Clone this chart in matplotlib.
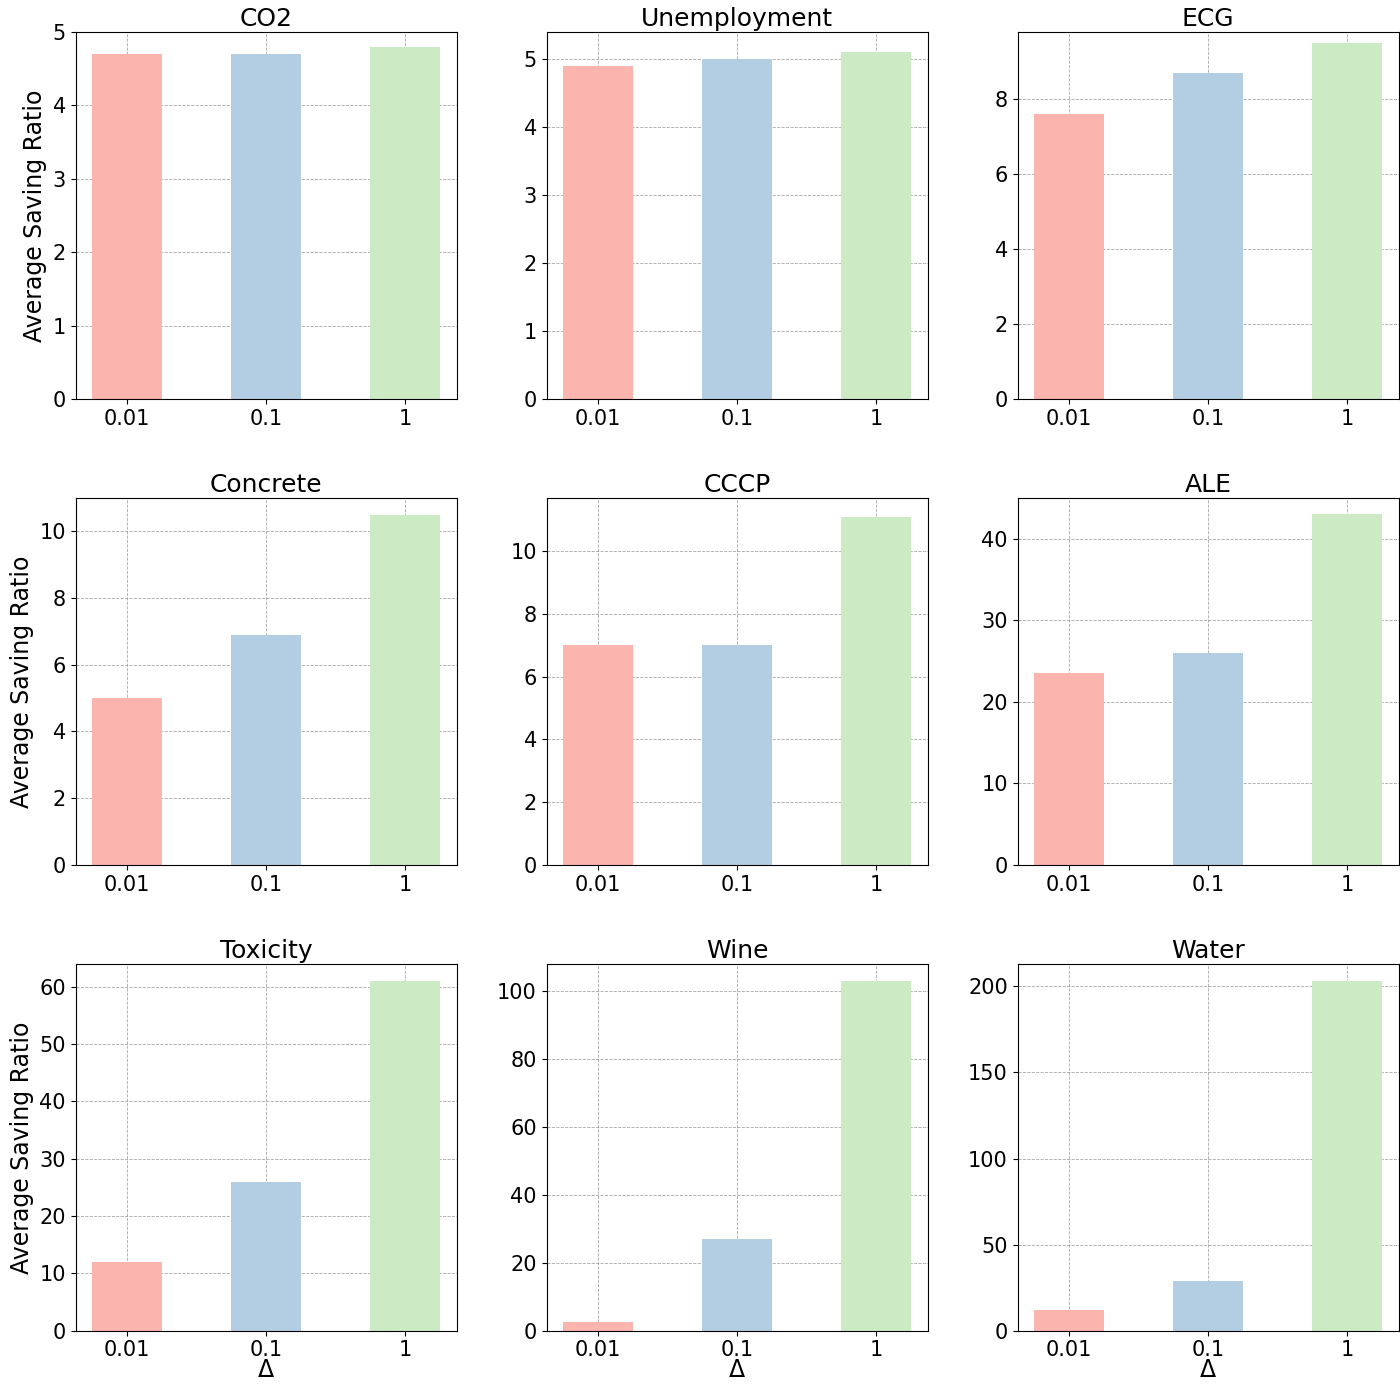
import matplotlib
matplotlib.use("Agg")
import matplotlib.pyplot as plt

DATASETS = ["CO2", "Unemployment", "ECG", "Concrete", "CCCP", "ALE",
            "Toxicity", "Wine", "Water"]
DELTAS = ["0.01", "0.1", "1"]
RATIOS = [
    [4.7, 4.7, 4.8],
    [4.9, 5.0, 5.1],
    [7.6, 8.7, 9.5],
    [5.0, 6.9, 10.5],
    [7.0, 7.0, 11.1],
    [23.5, 26.0, 43.0],
    [12.0, 26.0, 61.0],
    [2.5, 27.0, 103.0],
    [12.0, 29.0, 203.0],
]
YMAX = [5.0, 5.4, 9.8, 11.0, 11.7, 45.0, 64.0, 108.0, 213.0]
COLORS = ["#fbb4ae", "#b3cde3", "#ccebc5"]

fig, axes = plt.subplots(3, 3, figsize=(14, 13.92), dpi=100)
plt.subplots_adjust(left=0.054, right=0.999, top=0.977, bottom=0.044,
                    wspace=0.236, hspace=0.27)

for i, ax in enumerate(axes.flat):
    xs = range(len(DELTAS))
    ax.bar(xs, RATIOS[i], width=0.5, color=COLORS, zorder=2)
    ax.set_xticks(list(xs))
    ax.set_xticklabels(DELTAS)
    ax.set_xlim(-0.37, 2.37)
    ax.set_ylim(0, YMAX[i])
    ax.set_title(DATASETS[i], fontsize=18, pad=4)
    ax.tick_params(labelsize=15)
    ax.grid(True, ls="--", lw=0.6, color="gray", alpha=0.7, zorder=3)
    if i % 3 == 0:
        ax.set_ylabel("Average Saving Ratio", fontsize=17)
    if i >= 6:
        ax.set_xlabel("Δ", fontsize=17, labelpad=-2)

fig.savefig("out.png", dpi=100)
